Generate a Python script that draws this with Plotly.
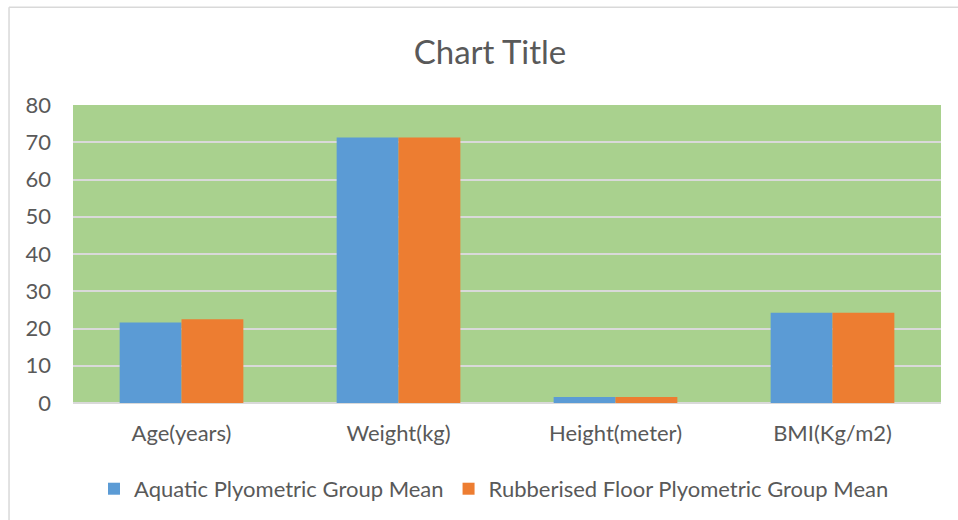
import plotly.graph_objects as go

categories = ["Age(years)", "Weight(kg)", "Height(meter)", "BMI(Kg/m2)"]
aquatic = [21.6, 71.3, 1.6, 24.2]
rubberised = [22.5, 71.3, 1.6, 24.2]
series_names = ["Aquatic Plyometric Group Mean", "Rubberised Floor Plyometric Group Mean"]
tick_vals = [0, 10, 20, 30, 40, 50, 60, 70, 80]

FONT = "Lato, Open Sans, sans-serif"
TXT = "#595959"

fig = go.Figure()
fig.add_trace(go.Bar(x=categories, y=aquatic, name=series_names[0], marker_color="#5b9bd5", marker_line_width=0))
fig.add_trace(go.Bar(x=categories, y=rubberised, name=series_names[1], marker_color="#ed7d31", marker_line_width=0))

fig.update_layout(
    width=958, height=520,
    margin=dict(l=73, r=17, t=105, b=116),
    paper_bgcolor="white",
    plot_bgcolor="#a9d18e",
    barmode="group",
    bargap=0.43,
    bargroupgap=0,
    font=dict(family=FONT, color=TXT, size=22),
    title=dict(text="Chart Title", x=0.5115, xanchor="center", y=0.9, yanchor="middle",
               font=dict(family=FONT, size=33, color=TXT)),
    legend=dict(orientation="h", x=0.485, xanchor="center", y=-0.284, yanchor="middle",
                font=dict(family=FONT, size=22, color=TXT), itemwidth=30, traceorder="normal"),
    showlegend=True,
)
fig.update_yaxes(range=[0, 80], tickvals=tick_vals, showgrid=True, gridcolor="#d9d9d9", gridwidth=1.5,
                 zeroline=True, zerolinecolor="#d9d9d9", zerolinewidth=1.5, ticks="", ticklen=0,
                 ticklabelstandoff=21,
                 tickfont=dict(size=22, color=TXT), fixedrange=True)
fig.update_xaxes(showgrid=False, ticks="", ticklabelstandoff=15,
                 tickfont=dict(size=22, color=TXT), fixedrange=True)

fig.add_shape(type="line", xref="paper", yref="paper", x0=-0.0737, x1=1.03, y0=1.328, y1=1.328,
              line=dict(color="#d9d9d9", width=1.5))
fig.add_shape(type="line", xref="paper", yref="paper", x0=-0.0737, x1=-0.0737, y0=1.328, y1=-0.4,
              line=dict(color="#d9d9d9", width=1.5))

fig.write_html("out.html")
